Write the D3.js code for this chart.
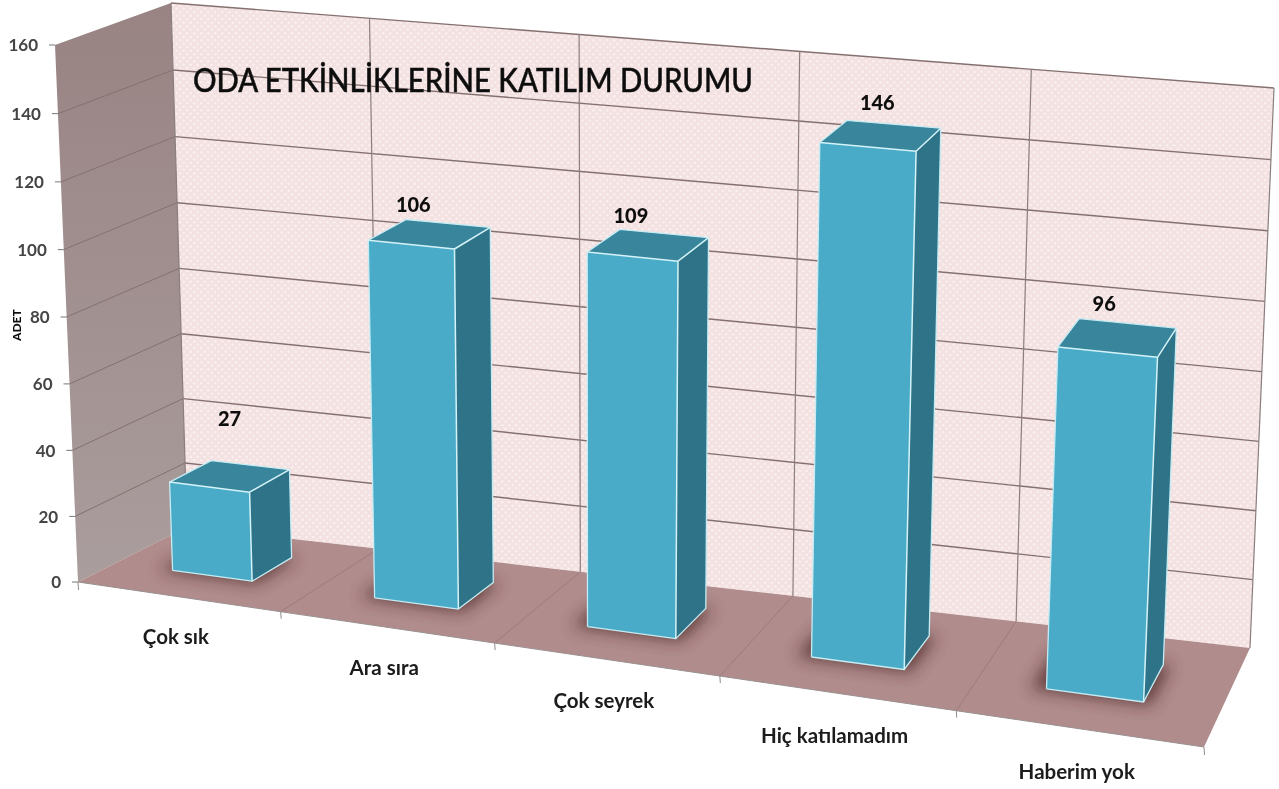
<!DOCTYPE html>
<html><head><meta charset="utf-8">
<style>html,body{margin:0;padding:0;background:#fff;overflow:hidden}svg{display:block}
text{font-family:Lato,"Open Sans",sans-serif}</style>
<script src="https://cdn.jsdelivr.net/npm/d3@7/dist/d3.min.js"></script>
</head><body><svg id="c" width="1279" height="789"></svg>
<script>
const categories = ["Çok sık","Ara sıra","Çok seyrek","Hiç katılamadım","Haberim yok"];
const values = [27,106,109,146,96];
const valueTicks = [0,20,40,60,80,100,120,140,160];
const titleText = "ODA ETKİNLİKLERİNE KATILIM DURUMU";
const axisTitle = "ADET";

// box corners on screen: [front-left, front-right, back-right, back-left]
const floorQuad = [[78,582],[1204,747],[1250,648],[187,527]];
const ceilQuad  = [[55,45],[1232,150],[1274,88],[171,3]];
const labelNudge = [[0,-35],[-16,-7],[-17,-6],[-3,-10],[-13,-8]];

function quadMap(q){
  return (u,w)=>{
    const a=[q[0][0]+(q[1][0]-q[0][0])*u, q[0][1]+(q[1][1]-q[0][1])*u];
    const b=[q[3][0]+(q[2][0]-q[3][0])*u, q[3][1]+(q[2][1]-q[3][1])*u];
    return [a[0]+(b[0]-a[0])*w, a[1]+(b[1]-a[1])*w];
  };
}
const lo=quadMap(floorQuad), hi=quadMap(ceilQuad);
const yScale=d3.scaleLinear().domain([0,160]).range([0,1]);
const xBand=d3.scaleBand().domain(categories).range([-0.002,0.998]).paddingInner(0.6).paddingOuter(0.3);
const xCol=d3.scaleBand().domain(categories).range([0,1]);
const zFront=0.35, zBack=0.74;
function P(u0,val,w){
  const u=u0*(1-0.125*(1-u0));
  const t=yScale(val), v=t*(1-0.026*(1-t));
  const a=lo(u,w), b=hi(u,w);
  return [a[0]+(b[0]-a[0])*v, a[1]+(b[1]-a[1])*v];
}
const poly=pts=>"M"+pts.map(p=>p[0].toFixed(1)+","+p[1].toFixed(1)).join("L")+"Z";
const line=pts=>"M"+pts.map(p=>p[0].toFixed(1)+","+p[1].toFixed(1)).join("L");

const svg=d3.select("#c");
const defs=svg.append("defs");
const soft=defs.append("filter").attr("id","soft").attr("x","-5%").attr("y","-5%").attr("width","110%").attr("height","110%");
soft.append("feGaussianBlur").attr("stdDeviation",0.7);
const sh=defs.append("filter").attr("id","shadow").attr("x","-50%").attr("y","-50%").attr("width","200%").attr("height","200%");
sh.append("feGaussianBlur").attr("stdDeviation",8);
const pat=defs.append("pattern").attr("id","dots").attr("width",7).attr("height",7).attr("patternUnits","userSpaceOnUse");
pat.append("rect").attr("width",7).attr("height",7).attr("fill","#f4e2e2");
pat.append("circle").attr("cx",1.7).attr("cy",1.7).attr("r",1.3).attr("fill","#faf0f0");
pat.append("circle").attr("cx",5.2).attr("cy",5.2).attr("r",1.3).attr("fill","#faf0f0");
const lg=defs.append("linearGradient").attr("id","leftW").attr("x1",0).attr("y1",0).attr("x2",0).attr("y2",1);
lg.append("stop").attr("offset",0).attr("stop-color","#998383");
lg.append("stop").attr("offset",1).attr("stop-color","#aa9d9d");

const g=svg.append("g").attr("filter","url(#soft)");

// walls and floor
g.append("path").attr("d",poly([P(0,0,1),P(1,0,1),P(1,160,1),P(0,160,1)])).attr("fill","url(#dots)");
g.append("path").attr("d",poly([P(0,0,0),P(0,0,1),P(0,160,1),P(0,160,0)])).attr("fill","url(#leftW)");
g.append("path").attr("d",poly([P(0,0,0),P(1,0,0),P(1,0,1),P(0,0,1)])).attr("fill","#b08c8c");

// gridlines
valueTicks.forEach(t=>{
  if(t>0) g.append("path").attr("d",line([P(0,t,1),P(1,t,1)])).attr("fill","none").attr("stroke","#85706f").attr("stroke-width",1.4);
  if(t>0&&t<160) g.append("path").attr("d",line([P(0,t,0),P(0,t,1)])).attr("fill","none").attr("stroke","#847070").attr("stroke-width",1);
});
const edges=categories.map(c=>xCol(c)).concat([1]);
edges.forEach(u=>{
  g.append("path").attr("d",line([P(u,0,1),P(u,160,1)])).attr("fill","none").attr("stroke","#8a7e7e").attr("stroke-width",1.2);
  if(u>0&&u<1) g.append("path").attr("d",line([P(u,0,0),P(u,0,1)])).attr("fill","none").attr("stroke","#9c7b7b").attr("stroke-width",1);
  const a=P(u,0,0);
  g.append("line").attr("x1",a[0]).attr("y1",a[1]).attr("x2",a[0]+0.5).attr("y2",a[1]+(u===0||u===1?8:7)).attr("stroke","#8f8a8a").attr("stroke-width",1);
});
g.append("path").attr("d",line([P(0,0,0),P(1,0,0)])).attr("fill","none").attr("stroke","#9a8f8f").attr("stroke-width",1);

// value axis
valueTicks.forEach(t=>{
  const a=P(0,t,0);
  g.append("line").attr("x1",a[0]-6).attr("y1",a[1]).attr("x2",a[0]).attr("y2",a[1]).attr("stroke","#777").attr("stroke-width",1);
  g.append("text").attr("x",a[0]-17).attr("y",a[1]+2).attr("text-anchor","end").attr("dominant-baseline","middle")
   .attr("font-size",17).attr("font-weight",700).attr("fill","#444").text(t);
});
g.append("text").attr("transform","translate(21,341) rotate(-90)").attr("font-size",12).attr("font-weight",900).attr("fill","#111").text(axisTitle);

// shadows
categories.forEach(c=>{
  const u0=xBand(c), u1=u0+xBand.bandwidth();
  g.append("path").attr("d",poly([P(u0-0.012,0,zFront-0.02),P(u1+0.006,0,zFront-0.02),P(u1+0.006,0,zBack),P(u0-0.012,0,zBack)]))
   .attr("fill","#4a2222").attr("opacity",0.75).attr("filter","url(#shadow)");
});

// bars
categories.forEach((c,i)=>{
  const u0=xBand(c), u1=u0+xBand.bandwidth(), v=values[i];
  const fl0=P(u0,0,zFront), fr0=P(u1,0,zFront), br0=P(u1,0,zBack);
  const flT=P(u0,v,zFront), frT=P(u1,v,zFront), brT=P(u1,v,zBack), blT=P(u0,v,zBack);
  const bar=g.append("g").attr("stroke-linejoin","round");
  bar.append("path").attr("d",poly([fr0,br0,brT,frT])).attr("fill","#2f7388");
  bar.append("path").attr("d",poly([flT,frT,brT,blT])).attr("fill","#38859c");
  bar.append("path").attr("d",poly([fl0,fr0,frT,flT])).attr("fill","#49abc8");
  bar.append("path").attr("d",line([fl0,fr0,br0,brT,blT,flT,fl0])).attr("fill","none").attr("stroke","#c6ecf3").attr("stroke-width",1.3);
  bar.append("path").attr("d",line([flT,frT,fr0])+line([frT,brT])).attr("fill","none").attr("stroke","#d4f3f8").attr("stroke-width",1.5);
  const cx=(flT[0]+brT[0])/2, top=Math.min(blT[1],brT[1]);
  g.append("text").attr("x",cx+labelNudge[i][0]).attr("y",top+labelNudge[i][1]).attr("text-anchor","middle")
   .attr("font-size",20).attr("font-weight",900).attr("fill","#111").text(v);
});

// category labels
categories.forEach((c,i)=>{
  const mid=xCol(c)+xCol.bandwidth()/2, a=P(mid,0,0);
  g.append("text").attr("x",a[0]-2).attr("y",a[1]+47+4*mid).attr("text-anchor","middle")
   .attr("font-size",20.5).attr("font-weight",700).attr("fill","#1b1b1b").text(c);
});

// title
g.append("text").attr("x",193).attr("y",92).attr("font-size",33).attr("font-weight",500)
 .attr("textLength",560).attr("lengthAdjust","spacingAndGlyphs")
 .attr("fill","#111").attr("stroke","#111").attr("stroke-width",0.5).text(titleText);
</script></body></html>
